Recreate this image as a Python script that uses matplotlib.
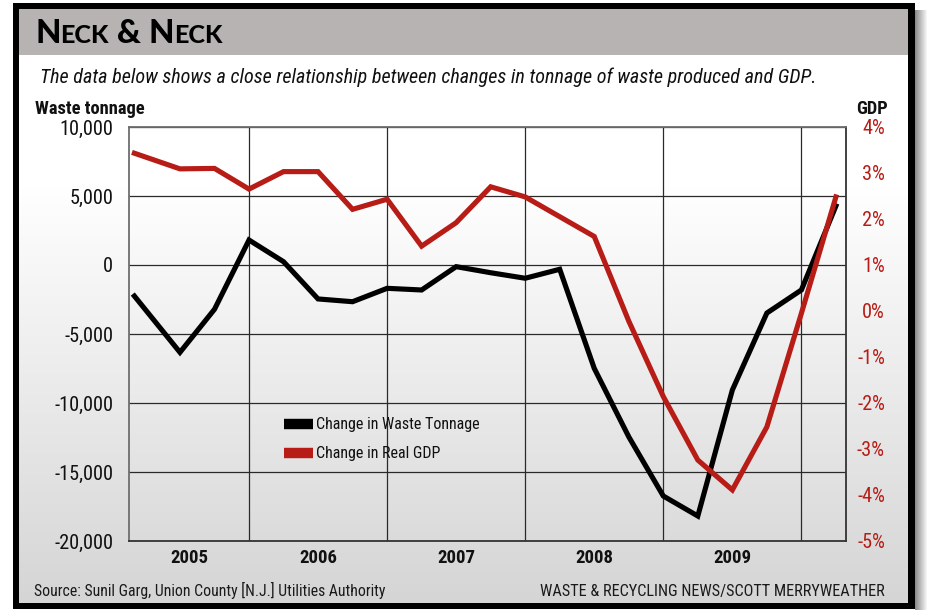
import numpy as np
import matplotlib
matplotlib.use('Agg')
import matplotlib.pyplot as plt
from matplotlib import font_manager as fm
from matplotlib.font_manager import FontProperties
from matplotlib.lines import Line2D
import matplotlib.transforms as mtransforms

# ---------------- data ----------------
quarters = [2005.17, 2005.5, 2005.75, 2006.0, 2006.25, 2006.5, 2006.75, 2007.0,
            2007.25, 2007.5, 2007.75, 2008.0, 2008.25, 2008.5, 2008.75, 2009.0,
            2009.25, 2009.5, 2009.75, 2010.0, 2010.25]
waste_change = [-2250, -6330, -3210, 1810, 240, -2460, -2660, -1690,
                -1810, -120, -560, -960, -310, -7490, -12450, -16740,
                -18190, -9060, -3480, -1810, 4280]
gdp_change = [3.43, 3.09, 3.10, 2.65, 3.03, 3.03, 2.21, 2.43,
              1.41, 1.92, 2.70, 2.48, 2.05, 1.62, -0.22, -1.86,
              -3.24, -3.89, -2.52, -0.05, 2.48]
year_labels = ['2005', '2006', '2007', '2008', '2009']
year_bounds = [2006, 2007, 2008, 2009, 2010]
waste_ticks = [-20000, -15000, -10000, -5000, 0, 5000, 10000]
gdp_ticks = [-5, -4, -3, -2, -1, 0, 1, 2, 3, 4]
series_names = ['Change in Waste Tonnage', 'Change in Real GDP']
subtitle = 'The data below shows a close relationship between changes in tonnage of waste produced and GDP.'
source_text = 'Source: Sunil Garg, Union County [N.J.] Utilities Authority'
credit_text = 'WASTE & RECYCLING NEWS/SCOTT MERRYWEATHER'

# ---------------- setup ----------------
W, H, DPI = 929, 610, 100
RED = '#b71c16'
TXT = '#111111'

names = {f.name for f in fm.fontManager.ttflist}


def fp(weight='normal', style='normal'):
    for n in ['Liberation Sans Narrow', 'Roboto Condensed', 'Open Sans Condensed']:
        if n in names:
            return FontProperties(family=n, weight=weight, style=style)
    return FontProperties(family='DejaVu Sans', stretch='condensed', weight=weight, style=style)


fig = plt.figure(figsize=(W / DPI, H / DPI), dpi=DPI)
R = fig.canvas.get_renderer()


def X(px):
    return px / W


def Y(py):
    return 1 - py / H


def size_for(s, prop, width):
    t = fig.text(0, 0, s, fontproperties=prop, fontsize=20)
    w = t.get_window_extent(R).width
    t.remove()
    return 20 * width / w


# ---------------- background (frame, title bar, gradient) ----------------
img = np.ones((H, W, 3))
yy = np.arange(H)[:, None] * np.ones((1, W))
xx = np.ones((H, 1)) * np.arange(W)[None, :]
g = np.clip((yy - 185) / (603 - 185), 0, 1)
body = 1.0 - g * (1.0 - 0.835)
inside = (xx >= 19) & (xx < 908) & (yy >= 9) & (yy < 603)
for c in range(3):
    img[..., c] = np.where(inside, body, 1.0)
bar = (xx >= 19) & (xx < 908) & (yy >= 9) & (yy < 55)
img[bar] = [0.722, 0.702, 0.702]
outer = (xx >= 13) & (xx < 915) & (yy >= 3) & (yy < 609)
border = outer & ~inside
img[border] = [0, 0, 0]
# soft shadow on the right
sh = (xx >= 915) & (xx < 927) & (yy >= 10)
d = np.clip((xx - 915) / 12.0, 0, 1)
shade = 0.55 + 0.45 * d
for c in range(3):
    img[..., c] = np.where(sh, shade, img[..., c])

bg = fig.add_axes([0, 0, 1, 1], zorder=-10)
bg.imshow(img, extent=[0, 1, 0, 1], aspect='auto', interpolation='bilinear')
bg.set_axis_off()

# ---------------- title (small caps) ----------------
if 'Lato' in names:
    tp_big = FontProperties(family='Lato', weight='black')
else:
    tp_big = FontProperties(family='DejaVu Sans', weight='bold')
parts = [('N', 1.0), ('ECK', 0.76), (' & ', 1.0), ('N', 1.0), ('ECK', 0.76)]
base = 30.0
widths = []
for s, k in parts:
    t = fig.text(0, 0, s, fontproperties=tp_big, fontsize=base * k)
    widths.append(t.get_window_extent(R).width)
    t.remove()
scale = 187.0 / sum(widths)
xcur = 35
for (s, k), w in zip(parts, widths):
    fig.text(X(xcur), Y(43), s, fontproperties=tp_big, fontsize=base * k * scale,
             color='black', va='baseline', ha='left')
    xcur += w * scale

# subtitle
p_it = fp(style='italic')
fig.text(X(40), Y(83), subtitle, fontproperties=p_it,
         fontsize=size_for(subtitle, p_it, 774), color=TXT, va='baseline', ha='left')

# axis titles
p_b = fp(weight='bold')
s_lab = size_for('Waste tonnage', p_b, 110)
fig.text(X(35), Y(114), 'Waste tonnage', fontproperties=p_b, fontsize=s_lab,
         color=TXT, va='baseline', ha='left')
fig.text(X(888), Y(114), 'GDP', fontproperties=p_b, fontsize=s_lab,
         color=TXT, va='baseline', ha='right')

# ---------------- main axes ----------------
ax = fig.add_axes([X(129), 1 - 541 / H, 717 / W, 414 / H])
ax.set_facecolor('none')
ax.set_xlim(2005.131, 2010.323)
ax.set_ylim(-20000, 10000)
ax.plot(quarters, waste_change, color='black', lw=3.7, solid_joinstyle='miter', zorder=3)

ax.set_yticks(waste_ticks)
tick_size = size_for('-20,000', fp(), 59)
ax.set_yticklabels([f'{v:,}'.replace('\u2212', '-') for v in waste_ticks],
                   fontproperties=fp(), fontsize=tick_size, color=TXT)
ax.set_xticks(year_bounds)
ax.set_xticklabels([])
ax.tick_params(axis='both', length=0)
ax.tick_params(axis='y', pad=11.5)
ax.grid(True, color='#2a2a2a', lw=0.9, zorder=1)
ax.set_axisbelow(True)
for side in ['top', 'left']:
    ax.spines[side].set_color('#6e6e6e')
for side in ['bottom', 'right']:
    ax.spines[side].set_color('#333333')
for sp in ax.spines.values():
    sp.set_linewidth(1.3)

# year labels centred in each (visible) year span
lo, hi = ax.get_xlim()
trans = mtransforms.blended_transform_factory(ax.transData, fig.transFigure)
p_yb = fp(weight='bold')
s_year = size_for('2005', p_yb, 38)
starts = [lo] + year_bounds[:-1]
for lab, a, b in zip(year_labels, starts, year_bounds):
    ax.text((a + b) / 2, Y(563), lab, transform=trans, fontproperties=p_yb,
            fontsize=s_year, color=TXT, ha='center', va='baseline')

# GDP axis
ax2 = ax.twinx()
ax2.set_ylim(-5, 4)
ax2.plot(quarters, gdp_change, color=RED, lw=3.7, solid_joinstyle='miter', zorder=3)
ax2.set_yticks(gdp_ticks)
ax2.set_yticklabels([f'{v}%' for v in gdp_ticks], fontproperties=fp(),
                    fontsize=tick_size, color=RED)
for lab in ax2.get_yticklabels():
    lab.set_horizontalalignment('right')
ax2.tick_params(axis='y', length=0, pad=28.0)
for sp in ax2.spines.values():
    sp.set_visible(False)

# legend
p_leg = fp()
s_leg = size_for(series_names[0], p_leg, 164)
handles = [Line2D([], [], color='black', lw=7.5, solid_capstyle='butt'),
           Line2D([], [], color=RED, lw=7.5, solid_capstyle='butt')]
fs_px = s_leg * DPI / 72
leg = ax2.legend(handles, series_names, loc='center left',
                 bbox_to_anchor=(X(284), Y(439)), bbox_transform=fig.transFigure,
                 frameon=False, prop=p_leg, fontsize=s_leg,
                 handlelength=33 / fs_px, handletextpad=4 / fs_px,
                 labelspacing=1.0, borderpad=0, borderaxespad=0)
for t in leg.get_texts():
    t.set_fontsize(s_leg)
    t.set_color(TXT)

# footer
p_f = fp()
fig.text(X(34), Y(596), source_text, fontproperties=p_f,
         fontsize=size_for(source_text, p_f, 350), color='#1a1a1a', va='baseline', ha='left')
fig.text(X(885), Y(596), credit_text, fontproperties=p_f,
         fontsize=size_for(credit_text, p_f, 346), color='#1a1a1a', va='baseline', ha='right')

fig.savefig('out.png', dpi=DPI)
